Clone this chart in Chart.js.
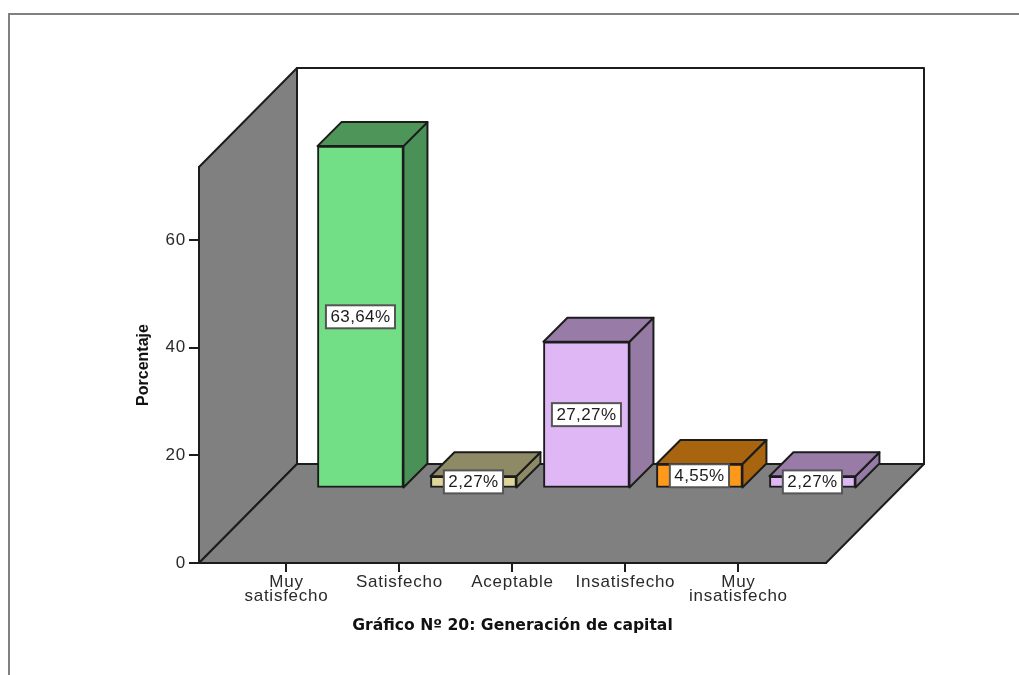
<!DOCTYPE html>
<html>
<head>
<meta charset="utf-8">
<title>Generación de capital</title>
<script src="https://cdn.jsdelivr.net/npm/chart.js@4"></script>
<style>
  body { margin: 0; background: #fff; }
  #wrap { position: relative; width: 1019px; height: 675px; overflow: hidden; }
  #frame { position: absolute; left: 8px; top: 13px; right: 0; bottom: 0; border-top: 2px solid #808080; border-left: 2px solid #808080; }
  canvas { position: absolute; left: 0; top: 0; filter: blur(0.5px); }
</style>
</head>
<body>
<div id="wrap">
  <div id="frame"></div>
  <canvas id="barChart" width="1019" height="675"></canvas>
</div>
<script>
// Values
const categories = [['Muy', 'satisfecho'], 'Satisfecho', 'Aceptable', 'Insatisfecho', ['Muy', 'insatisfecho']];
const percentages = [63.64, 2.27, 27.27, 4.55, 2.27];
const valueLabels = ['63,64%', '2,27%', '27,27%', '4,55%', '2,27%'];
const yTicks = [0, 20, 40, 60];

// Face colours for each bar
const frontColors = ['#72DF87', '#DDD59A', '#DFB7F5', '#FF991C', '#DFB7F5'];
const topColors = ['#4E9559', '#8F8A66', '#987CA7', '#A9640F', '#987CA7'];
const sideColors = ['#4A9158', '#8F8A66', '#957AA3', '#A9640F', '#957AA3'];

const INK = '#1c1c1c';
const WALL = '#808080';
const ROOM_DX = 98, ROOM_DY = 99;   // depth of the floor
const BAR_DX = 74, BAR_DY = 74.5;   // bars stand this far back from the axis
const BAR_DEPTH = 24;

function poly(ctx, pts, fill) {
    ctx.beginPath();
    pts.forEach((p, i) => i ? ctx.lineTo(p[0], p[1]) : ctx.moveTo(p[0], p[1]));
    ctx.closePath();
    if (fill) {
        ctx.fillStyle = fill;
        ctx.fill();
    }
    ctx.stroke();
}

const room3d = {
    id: 'room3d',
    // walls and floor go under the axes
    beforeDraw(chart) {
        const { ctx, chartArea: a } = chart;
        ctx.save();
        ctx.strokeStyle = INK;
        ctx.lineWidth = 2;
        ctx.lineJoin = 'round';
        poly(ctx, [[a.left + ROOM_DX, a.top - ROOM_DY], [a.right + ROOM_DX, a.top - ROOM_DY],
            [a.right + ROOM_DX, a.bottom - ROOM_DY], [a.left + ROOM_DX, a.bottom - ROOM_DY]], '#fff');
        poly(ctx, [[a.left, a.top], [a.left + ROOM_DX, a.top - ROOM_DY],
            [a.left + ROOM_DX, a.bottom - ROOM_DY], [a.left, a.bottom]], WALL);
        poly(ctx, [[a.left, a.bottom], [a.right, a.bottom],
            [a.right + ROOM_DX, a.bottom - ROOM_DY], [a.left + ROOM_DX, a.bottom - ROOM_DY]], WALL);
        ctx.restore();
    },
    // push the bars back onto the floor and add top and side faces
    beforeDatasetsDraw(chart) {
        const { ctx } = chart;
        ctx.save();
        ctx.translate(BAR_DX, -BAR_DY);
        ctx.strokeStyle = INK;
        ctx.lineWidth = 2;
        ctx.lineJoin = 'round';
        chart.getDatasetMeta(0).data.forEach((bar, i) => {
            const l = bar.x - bar.width / 2, r = bar.x + bar.width / 2;
            poly(ctx, [[r, bar.y], [r + BAR_DEPTH, bar.y - BAR_DEPTH],
                [r + BAR_DEPTH, bar.base - BAR_DEPTH], [r, bar.base]], sideColors[i]);
            poly(ctx, [[l, bar.y], [l + BAR_DEPTH, bar.y - BAR_DEPTH],
                [r + BAR_DEPTH, bar.y - BAR_DEPTH], [r, bar.y]], topColors[i]);
        });
    },
    afterDatasetsDraw(chart) {
        const { ctx } = chart;
        ctx.restore();
        // value boxes
        ctx.save();
        ctx.font = '17px "Liberation Sans", Arial, sans-serif';
        ctx.letterSpacing = '0.4px';
        ctx.textAlign = 'center';
        ctx.textBaseline = 'middle';
        chart.getDatasetMeta(0).data.forEach((bar, i) => {
            const cx = bar.x + BAR_DX;
            const cy = (bar.y + bar.base) / 2 - BAR_DY;
            const w = ctx.measureText(valueLabels[i]).width + 9;
            ctx.fillStyle = '#fff';
            ctx.strokeStyle = '#555';
            ctx.lineWidth = 2;
            ctx.fillRect(cx - w / 2, cy - 11.5, w, 23);
            ctx.strokeRect(cx - w / 2, cy - 11.5, w, 23);
            ctx.fillStyle = INK;
            ctx.fillText(valueLabels[i], cx, cy + 0.5);
        });
        ctx.restore();
        // tick labels sit on a later layer (z: 1) and are wider in the original
        ctx.letterSpacing = '0.75px';
    }
};

new Chart(document.getElementById('barChart').getContext('2d'), {
    type: 'bar',
    data: {
        datasets: [{
            data: percentages.map((v, i) => ({ x: i, y: v })),
            backgroundColor: frontColors,
            borderColor: INK,
            borderWidth: 2,
            borderSkipped: false,
            barThickness: 86,
            clip: false
        }]
    },
    options: {
        responsive: false,
        animation: false,
        layout: { padding: { left: 134, top: 167, right: 193, bottom: 40 } },
        plugins: { legend: { display: false }, tooltip: { enabled: false } },
        scales: {
            x: {
                type: 'linear',
                min: -0.774,
                max: 4.775,
                offset: false,
                afterBuildTicks(scale) {
                    scale.ticks = categories.map((c, i) => ({ value: i }));
                },
                afterFit(scale) { scale.height = 72; },
                ticks: {
                    callback: (v) => categories[v],
                    autoSkip: false,
                    maxRotation: 0,
                    padding: 3,
                    z: 1,
                    color: '#2a2a2a',
                    font: { family: '"Liberation Sans", Arial, sans-serif', size: 17, lineHeight: 0.82 }
                },
                grid: { drawOnChartArea: false, offset: false, color: INK, tickLength: 9, lineWidth: 2 },
                border: { color: INK, width: 2 },
                title: {
                    display: true,
                    text: 'Gráfico Nº 20: Generación de capital',
                    color: '#111',
                    padding: 0,
                    font: { family: '"DejaVu Sans", sans-serif', size: 15.6, weight: 'bold' }
                }
            },
            y: {
                min: 0,
                max: 73.6,
                afterBuildTicks(scale) {
                    scale.ticks = yTicks.map((v) => ({ value: v }));
                },
                afterFit(scale) { scale.width = 65; },
                ticks: {
                    padding: 3,
                    z: 1,
                    color: '#2a2a2a',
                    font: { family: '"Liberation Sans", Arial, sans-serif', size: 17 }
                },
                grid: { drawOnChartArea: false, color: INK, tickLength: 10, lineWidth: 2 },
                border: { color: INK, width: 2 },
                title: {
                    display: true,
                    text: 'Porcentaje',
                    color: '#111',
                    padding: 0,
                    font: { family: '"Liberation Sans", Arial, sans-serif', size: 16, weight: 'bold' }
                }
            }
        }
    },
    plugins: [room3d]
});
</script>
</body>
</html>
